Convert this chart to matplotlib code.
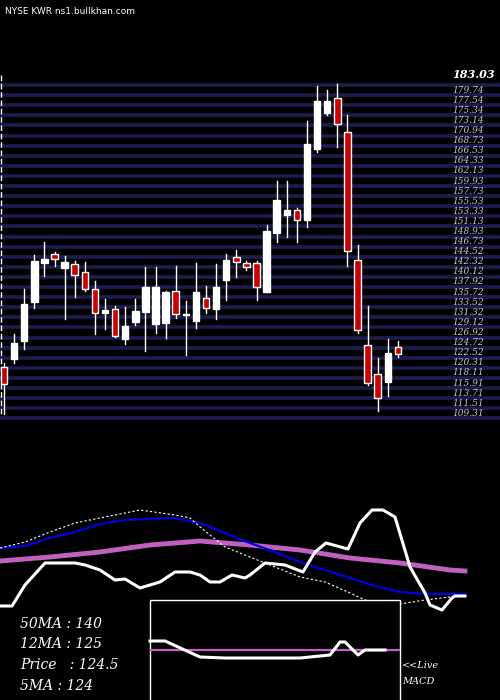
import matplotlib
matplotlib.use("Agg")
import matplotlib.pyplot as plt
import numpy as np

# ---- candle data (open, high, low, close) ----
opens  = [119.4,121.1,125.1,133.6,142.1,144.0,141.0,141.8,140.1,136.4,131.2,132.0,125.5,129.2,131.4,128.8,129.0,136.0,130.7,129.4,
          134.4,132.0,138.4,143.4,142.1,142.1,135.7,148.6,152.5,153.6,151.4,166.9,174.7,178.0,170.6,142.7,124.2,117.9,116.1,123.8]
highs  = [120.3,126.6,136.4,143.8,146.6,144.5,143.6,142.5,142.3,138.1,134.2,132.7,132.5,134.2,141.2,141.2,136.0,141.4,133.8,142.1,
          137.1,141.8,144.0,144.9,142.5,142.5,150.3,159.9,159.9,154.0,173.0,180.6,179.8,181.1,174.3,146.0,132.7,121.4,125.5,125.1]
lows   = [108.9,120.3,123.3,132.3,139.2,141.4,129.9,134.7,136.0,126.6,127.7,125.9,124.4,128.6,122.9,126.8,125.7,130.1,122.0,127.9,
          131.2,129.9,134.0,139.0,140.5,134.0,135.7,146.6,147.7,146.6,149.9,166.3,174.3,167.3,141.4,126.8,115.5,109.8,113.1,121.6]
closes = [115.7,124.6,133.1,142.5,142.9,142.9,142.3,139.5,136.4,131.2,131.8,126.2,128.3,131.6,136.8,136.8,135.7,131.0,130.8,135.7,
          132.3,136.8,142.7,142.3,141.2,136.8,149.0,155.8,153.6,151.4,168.0,177.4,177.4,172.4,144.7,127.5,115.9,112.6,122.5,122.2]
price_top, price_bot = 183.03, 108.94

# ---- lower panel lines (pixel x, pixel y) ----
blue_x = [0,25,50,75,100,125,150,175,200,225,250,275,300,325,350,375,400,425,450,465]
blue_y = [548,546,538,532,524,520,519,518,523,533,543,552,562,570,578,586,592,594,594,594]
mag_x = [0,50,100,150,200,250,300,350,400,450,465]
mag_y = [561,557,552,545,541,545,550,558,563,570,571]
dot_x = [0,25,50,75,100,125,140,175,190,200,225,250,275,300,325,350,365,400,425,450,455]
dot_y = [548,542,532,523,518,513,510,515,518,527,547,557,567,577,582,593,600,604,600,597,596]
wht_x = [0,12,25,45,75,85,100,115,125,140,160,175,190,200,210,220,232,245,250,265,285,303,315,326,348,360,372,383,395,410,425,430,442,452,455,465]
wht_y = [606,606,585,563,563,565,570,580,579,588,582,572,572,575,582,582,575,578,575,563,565,572,552,543,549,523,510,510,517,567,593,605,610,598,596,596]
macd_x = [150,165,200,225,260,300,330,340,345,358,365,385]
macd_y = [641,641,657,658,658,658,655,642,642,655,650,650]

fig = plt.figure(figsize=(5, 7), dpi=100, facecolor="black")
bg = fig.add_axes([0, 0, 1, 1])
bg.set_xlim(0, 500); bg.set_ylim(700, 0); bg.axis("off")
bg.set_facecolor("black")

# gridlines
for k in range(34):
    y = 85 + 10.1 * k
    bg.plot([0, 500], [y, y], color="#1c1c50", lw=2.6, zorder=1)
bg.plot([1, 1], [75, 415], color="white", lw=1, ls=(0, (4, 2)), zorder=2)

bg.text(5, 12, "NYSE KWR ns1.bullkhan.com", color="white", fontsize=6.5, va="center", family="DejaVu Sans")

# price labels
bg.text(452, 75, "183.03", color="white", fontsize=8, fontweight="bold", fontstyle="italic", va="center", family="DejaVu Serif")
for k in range(1, 34):
    y = 80 + 10.1 * k
    p = price_top - (y - 75) / 340 * (price_top - price_bot)
    bg.text(452, y, f"{p:.2f}", color="#dddddd", fontsize=6.5, fontstyle="italic", va="center", family="DejaVu Serif", alpha=0.9)

# candle axes
ax = fig.add_axes([0, (700 - 415) / 700, 1, 340 / 700])
ax.set_xlim(-4 / 10.1, 496 / 10.1)
ax.set_ylim(price_bot, price_top)
ax.axis("off"); ax.patch.set_alpha(0)
for i, (o, h, l, c) in enumerate(zip(opens, highs, lows, closes)):
    red = c < o
    ax.plot([i, i], [l, h], color="white", lw=1, zorder=3)
    lo, hi = min(o, c), max(o, c)
    ax.bar(i, max(hi - lo, 0.3), bottom=lo, width=0.65,
           color="#cc0000" if red else "white", edgecolor="white", lw=1, zorder=4)

# lower panel lines
bg.plot(mag_x, mag_y, color="#c060c0", lw=3.5, zorder=3)
bg.plot(blue_x, blue_y, color="#0000dd", lw=1.6, zorder=4)
bg.plot(dot_x, dot_y, color="white", lw=0.8, ls=(0, (2, 2)), zorder=4)
bg.plot(wht_x, wht_y, color="white", lw=2.2, zorder=5)

# MACD inset
bg.plot([150, 150, 400, 400], [700, 600, 600, 700], color="white", lw=1, zorder=5)
bg.fill_between([151, 399], 601, 700, color="black", zorder=4)
bg.plot([151, 399], [650, 650], color="#c060c0", lw=1.6, zorder=6)
bg.plot(macd_x, macd_y, color="white", lw=2.2, zorder=7)

for t, y in [("50MA : 140", 624), ("12MA : 125", 644), ("Price   : 124.5", 665), ("5MA : 124", 686)]:
    bg.text(20, y, t, color="white", fontsize=10, fontstyle="italic", family="DejaVu Serif", va="center")
bg.text(402, 666, "<<Live", color="white", fontsize=7, fontstyle="italic", family="DejaVu Serif", va="center")
bg.text(402, 681, "MACD", color="white", fontsize=7, fontstyle="italic", family="DejaVu Serif", va="center")

fig.savefig("out.png", dpi=100, facecolor="black")
